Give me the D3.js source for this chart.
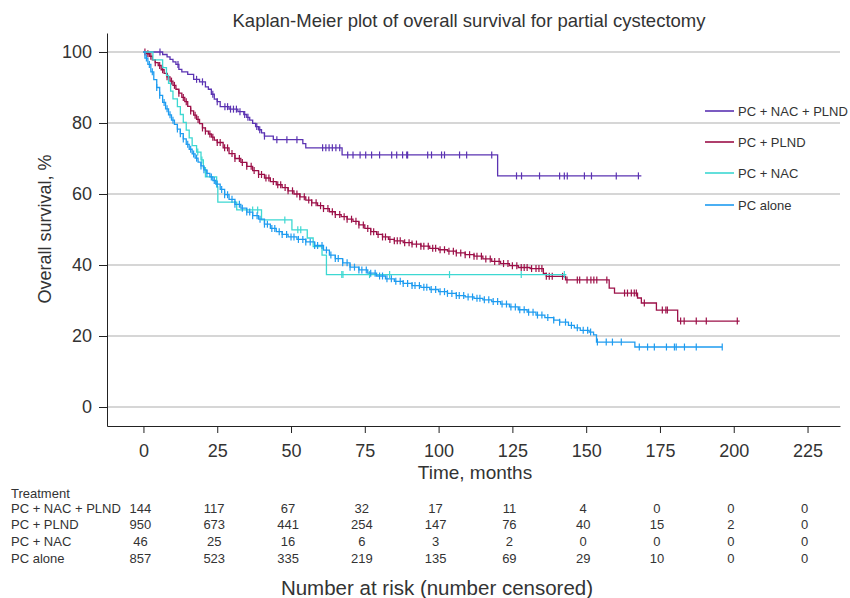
<!DOCTYPE html>
<html>
<head>
<meta charset="utf-8">
<script src="https://cdn.jsdelivr.net/npm/d3@7"></script>
<style>
  body { margin: 0; background: #fff; }
  svg text { font-family: "Liberation Sans", Arial, sans-serif; fill: #333; }
</style>
</head>
<body>
<script>
// series: [months, survival %] at each step
var survNacPlnd = [[0,100],[6.5,99.3],[8,98.6],[9,97.9],[10,97.2],[11,96.5],[12,95.1],[13,94.4],[15,93.7],[17,92.3],[19,91.6],[21,90.2],[22,89.5],[23,88.1],[24,86.7],[25,86.0],[26,84.6],[29,83.9],[32,83.2],[34,82.4],[35,81.6],[36,80.8],[37,79.9],[38,79.0],[39,78.1],[40,77.2],[41,76.3],[44,75.3],[54,74.2],[55,73.0],[67.3,71.0],[120,65.1]];
var endNacPlnd = 168.7;
var censNacPlnd = [5.6,11.7,18,20,23.5,25,27.6,28.5,29.5,30.5,31.5,32.7,34.3,35.4,38.4,39.4,41,45.2,48.6,52,60.7,61.8,62.9,64,65.2,66.5,69.2,71,73.4,75.3,77.3,80,84.1,85.8,87.8,89.2,89.5,96.3,97.6,101,102,107.1,109.5,118,126.4,128.1,134.2,141,142.6,143.6,149.4,151.8,160.2,167.7];

var survPlnd = [[0,100],[1,99.5],[2,98.8],[3,97.8],[4,97],[5,96.2],[6,95],[7,94],[8,93],[9,91.8],[10,90.6],[11,89.5],[12,88.4],[13,87.2],[14,86],[15,84.7],[16,83.4],[17,82.2],[18,81],[19,79.8],[20,78.6],[21,77.7],[22,76.9],[23,76],[24,75.2],[25,74.5],[27,73],[29,71.4],[31,70],[33,68.9],[35,67.8],[37,66.6],[39,65.5],[41,64.5],[43,63.5],[45,62.6],[47,61.8],[49,60.9],[51,60.0],[53,59.2],[55,58.3],[57,57.5],[59,56.7],[61,55.9],[63,55],[65,54.2],[67,53.6],[69,52.9],[71,52.3],[73,51.3],[75,50.3],[77,49.4],[79,48.6],[81,47.9],[83,47.2],[85,46.8],[88,46.3],[91,45.9],[94,45.3],[97,44.7],[100,44.3],[103,43.9],[106,43.4],[109,42.9],[112,42.5],[115,41.7],[118,41.0],[121,40.4],[124,39.8],[127,39.3],[131,39.0],[135.5,37.6],[136.5,36.8],[143,35.8],[157.8,33.5],[159.6,32.1],[167.4,30.7],[168.7,29.3],[173.8,27.3],[181,24.2]];
var endPlnd = 202;
var censPlnd = [0.5,1.5,2.5,4,5.5,6.5,8,9.5,10.5,12,13.5,14.5,16,17.5,18.5,20,21,22.5,23.5,25,26,27.5,28.5,30,31,32.5,33.5,35,36.5,37.5,39,40,41.5,42.5,44,45.5,46.5,48,49,50.5,52,53,54.5,56,57,58.5,60,61,62.5,64,65,66.5,68,69,70.5,72,73,74.5,76,77,78,79.5,81,82,83.5,85,86,87,88.5,90,91,92.5,94,95,96.5,98,99,100.5,102,103.5,105,106,107.5,109,110.5,112,113,114.5,116,117.5,119,120.5,122,123.5,125,126.5,128,129,130,131.5,133,134,135,136.5,137.5,138.5,142,143.5,147,147.8,150.3,151.6,152.6,153.6,157,163,164,165.3,166.3,167,169.7,175.8,177,177.5,182,183.2,187.3,190.7,201.2];

var survNac = [[0,100],[3.2,97.8],[6.5,95.6],[7.8,93.4],[8.5,91.2],[9.2,89.0],[10,86.8],[11.5,84.6],[12.5,82.4],[13.5,80.2],[14.5,78.0],[15.5,75.8],[16.5,73.6],[18,71.8],[19.5,69.6],[20.3,67.4],[21,64.8],[24.8,62.0],[25.2,57.7],[31.6,55.5],[40,52.7],[50.3,49.9],[55.5,47.6],[57.5,45.2],[60.5,42.8],[62,37.3]];
var endNac = 143.3;
var censNac = [18.4,19.8,37,38.7,47.9,52.3,53.3,67.2,67.6,76.6,83.4,103.7,128,142.6];

var survAlone = [[0,100],[0.5,98.3],[1.5,96.5],[2.5,94.4],[3.5,92.2],[4.5,90],[5.5,87.8],[6.5,85.8],[7.5,84],[8.5,82.3],[9.5,80.8],[10.5,79.6],[11.5,78.3],[12.5,77],[13.5,75.5],[14.5,74],[15.5,72.6],[16.5,71.3],[17.5,70.1],[18.5,69],[19.5,67.9],[20.5,66.8],[21.5,65.8],[22.5,64.8],[23.5,63.8],[24.5,62.8],[26,61.3],[27.5,59.8],[29,58.5],[31,57.1],[33,56],[35,54.9],[37,53.9],[39,52.9],[41,51.5],[43,50.3],[45,49.4],[47,48.6],[49,47.9],[52,47.2],[55,46.5],[58,45.5],[61,44.2],[63,42.8],[65,41.8],[67.5,40.6],[70,39.4],[73,38.6],[76,37.7],[79,36.9],[82,36.1],[85,35.4],[88,34.8],[91,34.2],[94,33.7],[97,33.1],[100,32.5],[103,32],[106,31.4],[109,31],[112,30.6],[115,30.2],[118,29.7],[121,29],[124,28.2],[127,27.4],[130,26.7],[133,25.9],[136,25.2],[139,24.5],[141,23.9],[144,23],[146,22.3],[148,21.6],[151,21.1],[152.5,20.3],[153.5,18.3],[166.5,16.9]];
var endAlone = 196.1;
var censAlone = [1,2,3,4.5,5.5,7,8,9,10,11.5,12.5,13.5,15,16,17,18,19.5,20.5,21.5,23,24,25,26.5,27.5,28.5,30,31,32.5,33.5,35,36,37,38.5,39.5,41,42,43.5,44.5,46,47,48.5,50,51,52.5,54,55,56.5,58,59,60.5,62,63.5,65,66,67.5,69,70,71.5,73,74,75.5,77,78.5,80,81,82.5,84,85.5,87,88,89.5,91,92,93.5,95,96,97.5,99,100.5,102,103,104.5,106,107,108.5,110,111.5,113,114,115.5,117,118.5,120,121.5,123,124.5,126,127.5,129,130.5,132,133.5,135,137,139,141,143,145,147,149,150.5,151.5,153.8,156.8,158.9,161.9,168,170.8,173.1,177.2,179.9,180.5,183.3,187.3,196.1];

var seriesNames = ["PC + NAC + PLND", "PC + PLND", "PC + NAC", "PC alone"];
var seriesColors = ["#5b33b2", "#9c1048", "#3dd8d2", "#1f9cf0"];

var xTicks = [0,25,50,75,100,125,150,175,200,225];
var yTicks = [0,20,40,60,80,100];

var riskNacPlnd = [144,117,67,32,17,11,4,0,0,0];
var riskPlnd    = [950,673,441,254,147,76,40,15,2,0];
var riskNac     = [46,25,16,6,3,2,0,0,0,0];
var riskAlone   = [857,523,335,219,135,69,29,10,0,0];

var series = [
  {steps: survNacPlnd, end: endNacPlnd, cens: censNacPlnd},
  {steps: survPlnd, end: endPlnd, cens: censPlnd},
  {steps: survNac, end: endNac, cens: censNac},
  {steps: survAlone, end: endAlone, cens: censAlone}
];
var risk = [riskNacPlnd, riskPlnd, riskNac, riskAlone];

var svg = d3.select("body").append("svg").attr("width", 850).attr("height", 598);

var xScale = d3.scaleLinear().domain([-12.35, 236]).range([107, 840]);
var yScale = d3.scaleLinear().domain([-5.35, 105.35]).range([426, 33]);

// grid
svg.append("g").selectAll("line").data(yTicks).enter().append("line")
  .attr("x1", 107).attr("x2", 840)
  .attr("y1", function(d){ return yScale(d); })
  .attr("y2", function(d){ return yScale(d); })
  .attr("stroke", "#c8c8c8").attr("stroke-width", 1.6);

var yAxis = d3.axisLeft(yScale).tickValues(yTicks).tickSize(8).tickSizeOuter(0).tickPadding(7);
var yAxisG = svg.append("g").attr("transform", "translate(107,0)").call(yAxis);
yAxisG.selectAll("text").style("font-size", "18px").attr("fill", "#333");

var xAxis = d3.axisBottom(xScale).tickValues(xTicks).tickSize(7).tickSizeOuter(0).tickPadding(11);
var xAxisG = svg.append("g").attr("transform", "translate(0,426)").call(xAxis);
xAxisG.selectAll("text").style("font-size", "18px").attr("fill", "#333");
svg.selectAll(".domain, .tick line").attr("stroke", "#222");

// curves
var line = d3.line()
  .x(function(d){ return xScale(d[0]); })
  .y(function(d){ return yScale(d[1]); })
  .curve(d3.curveStepAfter);

var bis = d3.bisector(function(d){ return d[0]; }).right;

series.forEach(function(s, i) {
  var pts = s.steps.concat([[s.end, s.steps[s.steps.length-1][1]]]);
  svg.append("path").attr("d", line(pts))
    .attr("fill", "none").attr("stroke", seriesColors[i]).attr("stroke-width", 1.3);
  svg.append("g").selectAll("line").data(s.cens).enter().append("line")
    .attr("x1", function(t){ return xScale(t); })
    .attr("x2", function(t){ return xScale(t); })
    .attr("y1", function(t){ return yScale(s.steps[bis(s.steps, t) - 1][1]) - 3.5; })
    .attr("y2", function(t){ return yScale(s.steps[bis(s.steps, t) - 1][1]) + 3.5; })
    .attr("stroke", seriesColors[i]).attr("stroke-width", 1.2);
});

// legend
var legY = [111, 142, 173, 205];
seriesNames.forEach(function(n, i) {
  svg.append("line").attr("x1", 705).attr("x2", 734).attr("y1", legY[i]).attr("y2", legY[i])
    .attr("stroke", seriesColors[i]).attr("stroke-width", 1.6);
  svg.append("text").attr("x", 738).attr("y", legY[i] + 4.5).style("font-size", "13px").text(n);
});

// titles
svg.append("text").attr("x", 469).attr("y", 26.5).attr("text-anchor", "middle")
  .style("font-size", "18.5px").text("Kaplan-Meier plot of overall survival for partial cystectomy");
svg.append("text").attr("transform", "translate(51,229) rotate(-90)").attr("text-anchor", "middle")
  .style("font-size", "18px").text("Overall survival, %");
svg.append("text").attr("x", 475).attr("y", 479).attr("text-anchor", "middle")
  .style("font-size", "19px").text("Time, months");

// risk table
svg.append("text").attr("x", 11).attr("y", 497.5).style("font-size", "13px").text("Treatment");
var rowY = [512.5, 529, 545.5, 562.5];
seriesNames.forEach(function(n, i) {
  svg.append("text").attr("x", 11).attr("y", rowY[i]).style("font-size", "13px").text(n);
  svg.append("g").selectAll("text").data(risk[i]).enter().append("text")
    .attr("x", function(d, j){ return xScale(xTicks[j]) - 3; })
    .attr("y", rowY[i]).attr("text-anchor", "middle").style("font-size", "13px")
    .text(function(d){ return d; });
});
svg.append("text").attr("x", 437).attr("y", 595).attr("text-anchor", "middle")
  .style("font-size", "20.5px").text("Number at risk (number censored)");
</script>
</body>
</html>
